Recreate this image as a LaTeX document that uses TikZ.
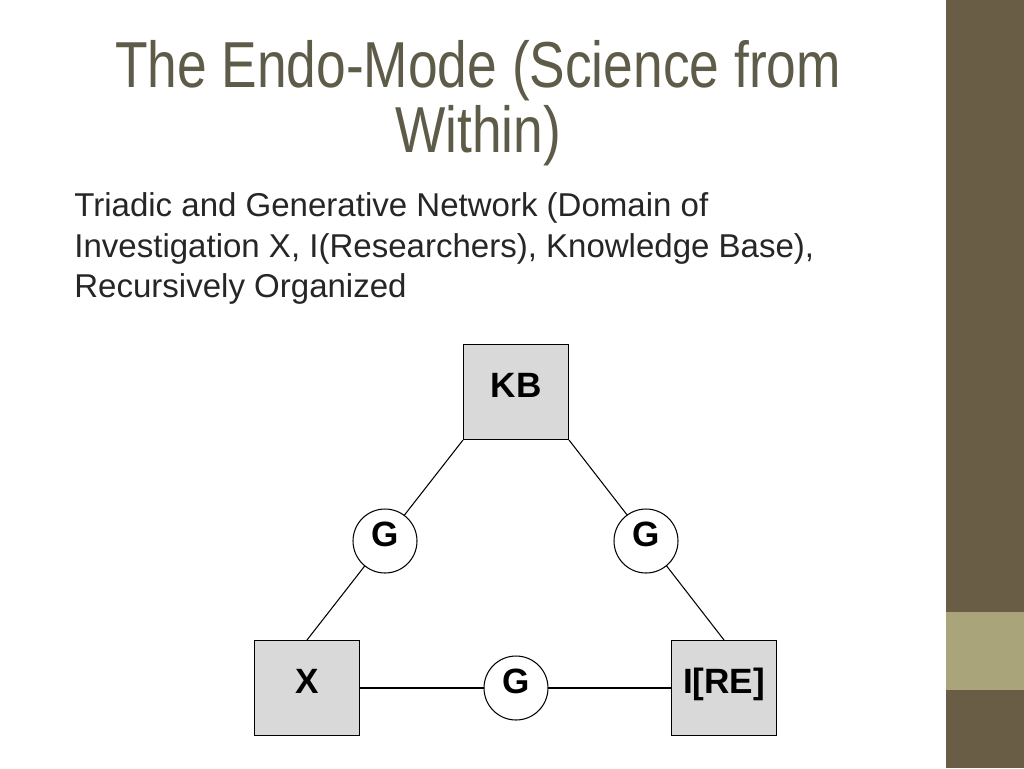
\documentclass[tikz,border=0pt]{standalone}
\usepackage{fontspec}
\setmainfont{Liberation Sans}
\newfontfamily\titlefont[FakeStretch=0.82]{Liberation Sans}
\definecolor{olive}{HTML}{6A5D45}
\definecolor{lightolive}{HTML}{A9A47A}
\definecolor{titlegray}{HTML}{5E5B48}
\definecolor{boxgray}{HTML}{D9D9D9}
\tikzset{
  kbox/.style={draw, fill=boxgray, minimum width=2.1cm, minimum height=1.9cm, text height=1.5ex, text depth=0.4ex, font=\fontsize{20}{24}\selectfont\bfseries},
  gnode/.style={draw, circle, fill=white, minimum size=1.28cm, inner sep=0pt, text height=1.5ex, text depth=0.4ex, font=\fontsize{20}{24}\selectfont\bfseries}
}
\begin{document}
\begin{tikzpicture}[x=0.02cm, y=-0.02cm, line width=0.6pt]
  % background and side bar
  \fill[white] (0,0) rectangle (1024,768);
  \fill[olive] (946,0) rectangle (1024,768);
  \fill[lightolive] (946,612) rectangle (1024,690);
  % title and text
  \node[text=titlegray, align=center, font=\titlefont\fontsize{37}{37}\selectfont] (title) at (478,103) {The Endo-Mode (Science from\\Within)};
  \node[anchor=north west, align=left, text=black!85, font=\fontsize{18.8}{23.2}\selectfont] (desc) at (68,186) {Triadic and Generative Network (Domain of\\Investigation X, I(Researchers), Knowledge Base),\\Recursively Organized};
  % network
  \node[kbox] (kb) at (516,392) {KB};
  \node[kbox] (x) at (307,688) {X};
  \node[kbox] (ire) at (724,688) {I[RE]};
  \draw (kb.south west) -- (x.north);
  \draw (kb.south east) -- (ire.north);
  \draw (x.east) -- (ire.west);
  \node[gnode] (gl) at (385,541) {G};
  \node[gnode] (gr) at (646,541) {G};
  \node[gnode] (gb) at (516,688) {G};
\end{tikzpicture}
\end{document}
